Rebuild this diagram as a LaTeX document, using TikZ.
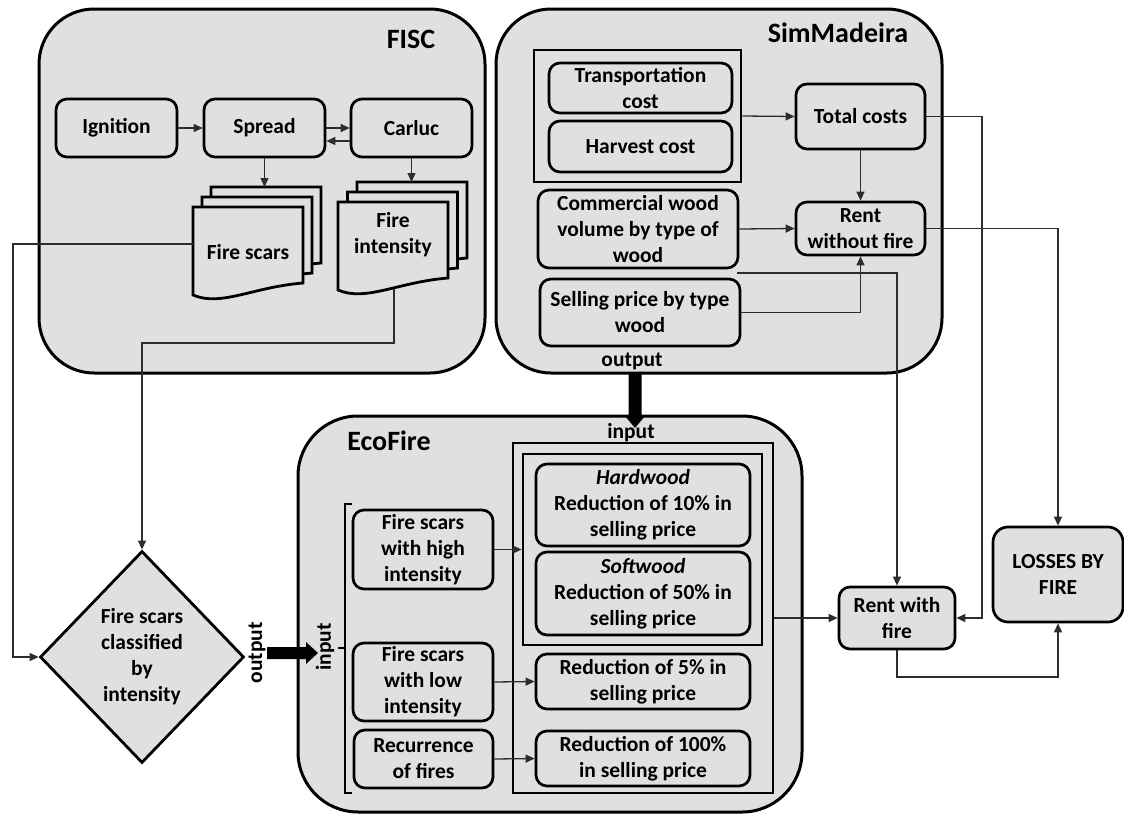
\documentclass[tikz,border=0pt]{standalone}
\usepackage{fontspec}
\setmainfont{Carlito}
\usetikzlibrary{arrows.meta,shapes.geometric,calc}
\definecolor{boxgray}{RGB}{224,224,224}
\definecolor{linegray}{RGB}{45,45,45}
\newcommand{\docsheet}[2]{\draw[line width=2.8pt, fill=boxgray, shift={(#1,#2)}] (0,0) -- (110,0) -- (110,76) .. controls (60,80) and (28,100) .. (0,88) -- cycle;}
\begin{document}
\begin{tikzpicture}[x=1pt,y=-1pt,
  txt/.style={font=\bfseries\fontsize{21.5}{26}\selectfont, align=center, inner sep=0pt},
  container/.style={draw=black, line width=3pt, fill=boxgray, rounded corners=55pt, inner sep=0pt},
  rbox/.style={draw=black, line width=2.7pt, fill=boxgray, rounded corners=11pt, txt},
  framebox/.style={draw=black, line width=2.7pt, inner sep=0pt},
  conn/.style={draw=linegray, line width=1.3pt},
  arr/.style={conn, -{Triangle[length=9pt,width=8pt]}},
  title/.style={font=\bfseries\fontsize{28}{32}\selectfont, inner sep=0pt},
]
\useasboundingbox (0,0) rectangle (1124,814);

% containers
\node[container, minimum width=446pt, minimum height=364pt] (fisc) at (262,191) {};
\node[container, minimum width=446pt, minimum height=364pt] (sim) at (719,191) {};
\node[container, minimum width=504pt, minimum height=396pt, rounded corners=60pt] (eco) at (550,614) {};
\node[title] (fisct) at (411,39) {FISC};
\node[title] (simt) at (838,33) {SimMadeira};
\node[title] (ecot) at (389,441) {EcoFire};

% FISC
\node[rbox, minimum width=121pt, minimum height=58pt] (ign) at (116.5,128) {Ignition};
\node[rbox, minimum width=121pt, minimum height=58pt] (spr) at (264.5,128) {Spread};
\node[rbox, minimum width=121pt, minimum height=58pt] (car) at (411.5,128) {Carluc};
\docsheet{211}{187}
\docsheet{202}{197}
\docsheet{193}{207}
\docsheet{357}{182}
\docsheet{347.5}{192}
\docsheet{338}{202}
\node[txt] (fscar) at (248,252) {Fire scars};
\node[txt] (fint) at (393,235) {Fire\\intensity};
\coordinate (fstop) at (264.5,187);
\coordinate (fsleft) at (193,244);
\coordinate (fitop) at (411.5,182);
\coordinate (fibot) at (394,289);
\draw[arr] (ign) -- (spr);
\draw[arr] (spr.east) -- (car.west);
\draw[arr] ($(car.west)+(0,13)$) -- ($(spr.east)+(0,13)$);
\draw[arr] (spr.south) -- (fstop);
\draw[arr] (car.south) -- (fitop);

% SimMadeira
\node[framebox, minimum width=207pt, minimum height=132pt] (costframe) at (637.5,116) {};
\node[rbox, minimum width=183pt, minimum height=50pt] (tc) at (640.5,88) {Transportation\\cost};
\node[rbox, minimum width=183pt, minimum height=51pt] (hc) at (640.5,146.5) {Harvest cost};
\node[rbox, minimum width=200pt, minimum height=78pt] (cw) at (638,229) {Commercial wood\\volume by type of\\wood};
\node[rbox, minimum width=200pt, minimum height=67pt] (sp) at (640,312.5) {Selling price by type\\wood};
\node[txt] (outs) at (632,361) {output};
\node[rbox, minimum width=129pt, minimum height=65pt] (tcost) at (860.5,116.5) {Total costs};
\node[rbox, minimum width=129pt, minimum height=53pt] (rwo) at (860.5,228.5) {Rent\\without fire};

% EcoFire
\node[framebox, minimum width=260pt, minimum height=350pt] (outer) at (643,618) {};
\node[framebox, minimum width=239pt, minimum height=191pt] (inner) at (642.5,549.5) {};
\node[rbox, minimum width=214pt, minimum height=82pt] (hw) at (643,505) {\textit{Hardwood}\\Reduction of 10\% in\\selling price};
\node[rbox, minimum width=214pt, minimum height=83pt] (sw) at (643,593.5) {\textit{Softwood}\\Reduction of 50\% in\\selling price};
\node[rbox, minimum width=214pt, minimum height=55pt] (r5) at (643,681.5) {Reduction of 5\% in\\selling price};
\node[rbox, minimum width=214pt, minimum height=55pt] (r100) at (643,758.5) {Reduction of 100\%\\in selling price};
\node[txt] (ine) at (631,433) {input};
\node[rbox, minimum width=140pt, minimum height=79pt] (fsh) at (423,549.5) {Fire scars\\with high\\intensity};
\node[rbox, minimum width=140pt, minimum height=78pt] (fsl) at (423,682) {Fire scars\\with low\\intensity};
\node[rbox, minimum width=139pt, minimum height=58pt] (rec) at (423.5,759) {Recurrence\\of fires};
\draw[line width=2.2pt] (352,504) -- (345,504) -- (345,793) -- (352,793);
\draw[line width=2.2pt] (345,648) -- (338,648);
\node[txt, rotate=90] (inb) at (325,647) {input};
\draw[arr] (fsh.east) -- (inner.west);
\draw[arr] (fsl.east) -- (r5.west);
\draw[arr] (rec.east) -- (r100.west);

% diamond
\node[draw=black, line width=2.8pt, fill=boxgray, diamond, minimum width=204pt, minimum height=212pt, txt] (dia) at (142,657) {Fire scars\\classified\\by\\intensity};
\node[txt, rotate=90] (outd) at (257,653) {output};

% right side
\node[rbox, minimum width=116pt, minimum height=62pt] (rwf) at (897,618) {Rent with\\fire};
\node[rbox, minimum width=130pt, minimum height=95pt, rounded corners=15pt] (loss) at (1058,574.5) {LOSSES BY\\FIRE};

% connectors
\coordinate (c1) at (13,244);
\draw[arr] (fsleft) -- (c1) |- (dia.west);
\coordinate (c2) at (394,343);
\draw[arr] (fibot) -- (c2) -| (dia.north);
\draw[arr] (costframe.east) -- (tcost.west);
\draw[arr] (tcost.south) -- (rwo.north);
\draw[arr] (cw.east) -- (rwo.west);
\draw[arr] (sp.east) -| (rwo.south);
\coordinate (cwout) at (737,273);
\draw[arr] (cwout) -| (rwf.north);
\coordinate (c3) at (982,116.5);
\draw[arr] (tcost.east) -- (c3) |- (rwf.east);
\draw[arr] (rwo.east) -| (loss.north);
\coordinate (c4) at (897,677);
\draw[arr] (rwf.south) -- (c4) -| (loss.south);
\draw[arr] (outer.east) -- (rwf.west);

% thick arrows
\fill[black] (267,647) -- (306,647) -- (306,642) -- (318,653) -- (306,664) -- (306,659) -- (267,659) -- cycle;
\fill[black] (628.5,374) -- (641.5,374) -- (641.5,416) -- (645,416) -- (635,428) -- (625,416) -- (628.5,416) -- cycle;
\end{tikzpicture}
\end{document}
